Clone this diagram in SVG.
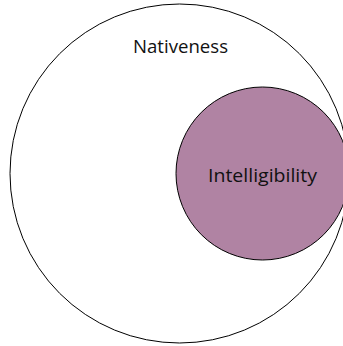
<svg xmlns="http://www.w3.org/2000/svg" width="343" height="346" viewBox="0 0 343 346">
<style>
.c{stroke:#000;stroke-width:1}
.t{font-family:"Open Sans","Noto Sans",sans-serif;font-size:18px;fill:#111;text-anchor:middle}
</style>
<rect width="343" height="346" fill="#fff"/>
<g id="nativeness">
<circle class="c" cx="179.5" cy="173.5" r="169.5" fill="#fff"/>
<text class="t" x="180.5" y="53" textLength="95" lengthAdjust="spacingAndGlyphs">Nativeness</text>
</g>
<g id="intelligibility">
<circle class="c" cx="262.5" cy="173.5" r="86.5" fill="#B083A3"/>
<text class="t" x="262.5" y="182" textLength="109" lengthAdjust="spacingAndGlyphs">Intelligibility</text>
</g>
<g id="connectors"></g>
</svg>
